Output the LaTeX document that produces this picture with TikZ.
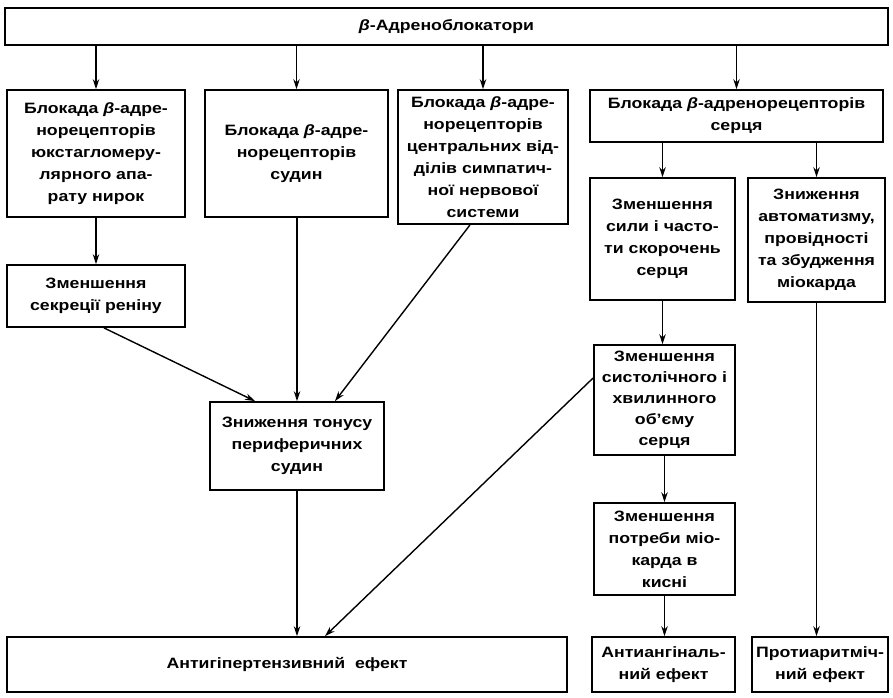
\documentclass[tikz,border=0pt]{standalone}
\usepackage{fontspec}
\setmainfont{Liberation Sans}[FakeStretch=1.18]
\usetikzlibrary{arrows.meta,calc}
\tikzset{
  box/.style={draw, line width=1.8pt, align=center, inner sep=0pt,
    font=\bfseries\fontsize{15}{22}\selectfont},
  tight/.style={font=\bfseries\fontsize{15}{21}\selectfont},
  arr/.style={line width=1.4pt, -{Stealth[length=10pt,width=6.5pt]}},
}
\newcommand{\bx}[6]{% name, x1, y1, x2, y2, text
  \node[box, minimum width={(#4-#2)*1pt}, minimum height={(#5-#3)*1pt}] (#1) at ({(#2+#4)/2},{(#3+#5)/2}) {#6};}
\newcommand{\bxt}[6]{%
  \node[box, tight, minimum width={(#4-#2)*1pt}, minimum height={(#5-#3)*1pt}] (#1) at ({(#2+#4)/2},{(#3+#5)/2}) {#6};}
\newcommand{\bet}{\textit{β}}
\begin{document}
\begin{tikzpicture}[x=1pt,y=-1pt]
\useasboundingbox (0,0) rectangle (893,697);
\bx{top}{5}{8}{888}{45}{\bet-Адреноблокатори}
\bx{A}{7}{90}{185}{217}{Блокада \bet-адре-\\норецепторів\\юкстагломеру-\\лярного апа-\\рату нирок}
\bx{B}{205}{90}{388}{217}{Блокада \bet-адре-\\норецепторів\\судин}
\bx{C}{398}{90}{568}{224}{Блокада \bet-адре-\\норецепторів\\центральних від-\\ділів симпатич-\\ної нервової\\системи}
\bx{D}{590}{90}{883}{142}{Блокада \bet-адренорецепторів\\серця}
\bx{E}{590}{178}{735}{300}{Зменшення\\сили і часто-\\ти скорочень\\серця}
\bx{F}{748}{178}{885}{302}{Зниження\\автоматизму,\\провідності\\та збудження\\міокарда}
\bx{R}{7}{265}{185}{327}{Зменшення\\секреції реніну}
\bx{K}{210}{402}{384}{490}{Зниження тонусу\\периферичних\\судин}
\bxt{G}{594}{345}{735}{455}{Зменшення\\систолічного і\\хвилинного\\об’єму\\серця}
\bx{H}{594}{503}{735}{595}{Зменшення\\потреби міо-\\карда в\\кисні}
\bx{L}{7}{637}{567}{692}{Антигіпертензивний\ \ ефект}
\bx{I}{592}{637}{735}{692}{Антиангіналь-\\ний ефект}
\bx{J}{752}{637}{888}{692}{Протиаритміч-\\ний ефект}
% arrows from top
\draw[arr] (top.south -| A.north) -- (A.north);
\draw[arr] (top.south -| B.north) -- (B.north);
\draw[arr] (top.south -| C.north) -- (C.north);
\draw[arr] (top.south -| D.north) -- (D.north);
% left branch
\draw[arr] (A.south) -- (R.north);
\draw[arr] ([xshift=8pt]R.south) -- ([xshift=-42pt]K.north);
\draw[arr] (B.south -| K.north) -- (K.north);
\draw[arr] ([xshift=-13pt]C.south) -- ([xshift=38pt]K.north);
\draw[arr] (K.south) -- (K.south |- L.north);
\draw[arr] ([yshift=22pt]G.west) -- ([xshift=38pt]L.north);
% right branch
\draw[arr] (D.south -| E.north) -- (E.north);
\draw[arr] (D.south -| F.north) -- (F.north);
\draw[arr] (E.south) -- (G.north -| E.south);
\draw[arr] (G.south) -- (H.north);
\draw[arr] (H.south) -- (I.north -| H.south);
\draw[arr] (F.south) -- (J.north -| F.south);
\end{tikzpicture}
\end{document}
